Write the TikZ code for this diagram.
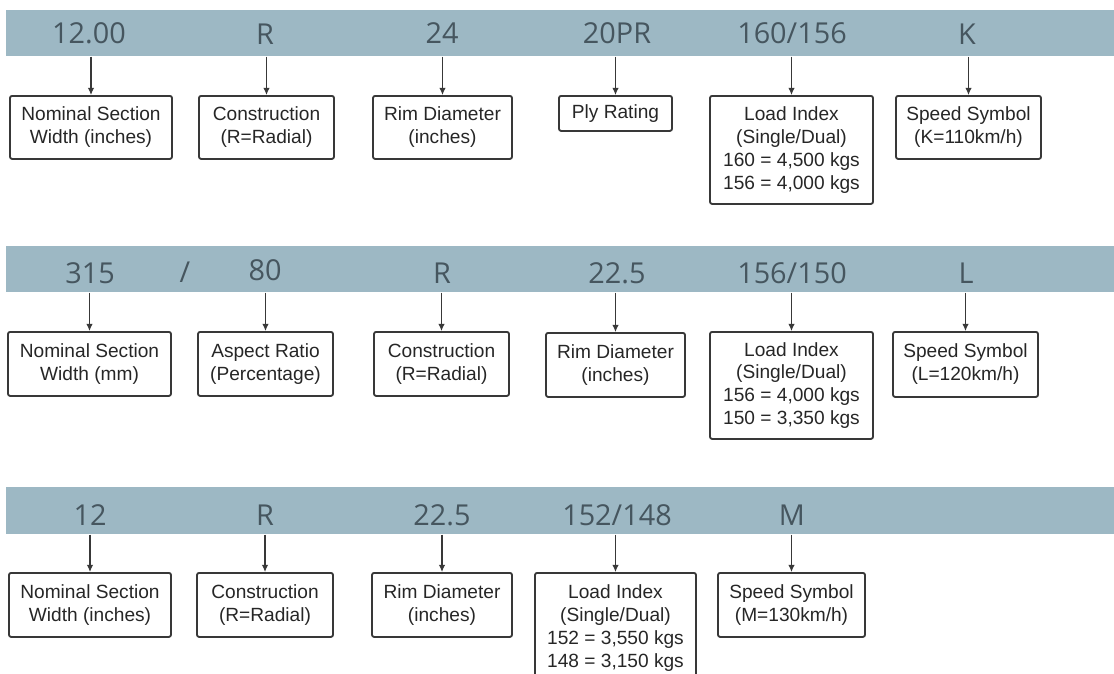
\documentclass[tikz,border=0pt]{standalone}
\usepackage{fontspec}
\setmainfont{Liberation Sans}
\newfontfamily\barfont{Open Sans}
\usetikzlibrary{arrows.meta}
\definecolor{barblue}{HTML}{9DB8C4}
\definecolor{bartext}{HTML}{46565F}
\definecolor{boxline}{HTML}{383838}
\newcommand{\pxu}{0.025cm}
\tikzset{
  bar/.style={fill=barblue, draw=none, inner sep=0pt, anchor=north west, minimum width=1108*\pxu, minimum height=46*\pxu},
  code/.style={anchor=base, inner sep=0pt, text=bartext, font=\barfont\fontsize{20.5}{22}\selectfont},
  lbl/.style={draw=boxline, line width=1.3pt, rounded corners=1.5pt, anchor=north, align=center, inner sep=0pt,
    text=black!85, font=\fontsize{13.6}{16.2}\selectfont},
  arr/.style={-{Latex[length=5pt,width=4.5pt]}, line width=0.75pt, draw=boxline}
}

\begin{document}
\begin{tikzpicture}[x=\pxu,y=-\pxu]
\useasboundingbox (0,0) rectangle (1114,673);
% first line: 12.00 R 24 20PR 160/156 K
\node (bar1) [bar] at (6,10) {};
\node (t11) [code] at (89,43) {12.00};
\node (t12) [code] at (265,44) {R};
\node (t13) [code] at (442,43) {24};
\node (t14) [code] at (617,43) {20PR};
\node (t15) [code] at (792,43) {160/156};
\node (t16) [code] at (967,44) {K};
\node (b11) [lbl, minimum width=162*\pxu, minimum height=63*\pxu] at (91,95) {Nominal Section\\Width (inches)};
\node (b12) [lbl, minimum width=135*\pxu, minimum height=63*\pxu] at (266.5,95) {Construction\\(R=Radial)};
\node (b13) [lbl, minimum width=139*\pxu, minimum height=63*\pxu] at (442.5,95) {Rim Diameter\\(inches)};
\node (b14) [lbl, minimum width=113*\pxu, minimum height=35*\pxu] at (615.5,95) {Ply Rating};
\node (b15) [lbl, minimum width=163*\pxu, minimum height=108*\pxu] at (791.5,95) {Load Index\\(Single/Dual)\\160 = 4,500 kgs\\156 = 4,000 kgs};
\node (b16) [lbl, minimum width=145*\pxu, minimum height=63*\pxu] at (968.5,95) {Speed Symbol\\(K=110km/h)};
\draw[arr] (b11.north |- bar1.south) -- (b11.north);
\draw[arr] (b12.north |- bar1.south) -- (b12.north);
\draw[arr] (b13.north |- bar1.south) -- (b13.north);
\draw[arr] (b14.north |- bar1.south) -- (b14.north);
\draw[arr] (b15.north |- bar1.south) -- (b15.north);
\draw[arr] (b16.north |- bar1.south) -- (b16.north);
% second line: 315/80 R 22.5 156/150 L
\node (bar2) [bar] at (6,246) {};
\node (t21) [code] at (90,283) {315};
\node (t2s) [code] at (185,282) {/};
\node (t22) [code] at (265,280) {80};
\node (t23) [code] at (442,283) {R};
\node (t24) [code] at (617,283) {22.5};
\node (t25) [code] at (792,283) {156/150};
\node (t26) [code] at (966,283) {L};
\node (b21) [lbl, minimum width=163*\pxu, minimum height=64*\pxu] at (89.5,331) {Nominal Section\\Width (mm)};
\node (b22) [lbl, minimum width=135*\pxu, minimum height=64*\pxu] at (265.5,331) {Aspect Ratio\\(Percentage)};
\node (b23) [lbl, minimum width=135*\pxu, minimum height=64*\pxu] at (441.5,331) {Construction\\(R=Radial)};
\node (b24) [lbl, minimum width=139*\pxu, minimum height=64*\pxu] at (615.5,332) {Rim Diameter\\(inches)};
\node (b25) [lbl, minimum width=163*\pxu, minimum height=107*\pxu] at (791.5,331) {Load Index\\(Single/Dual)\\156 = 4,000 kgs\\150 = 3,350 kgs};
\node (b26) [lbl, minimum width=145*\pxu, minimum height=65*\pxu] at (965.5,331) {Speed Symbol\\(L=120km/h)};
\draw[arr] (b21.north |- bar2.south) -- (b21.north);
\draw[arr] (b22.north |- bar2.south) -- (b22.north);
\draw[arr] (b23.north |- bar2.south) -- (b23.north);
\draw[arr] (b24.north |- bar2.south) -- (b24.north);
\draw[arr] (b25.north |- bar2.south) -- (b25.north);
\draw[arr] (b26.north |- bar2.south) -- (b26.north);
% third line: 12 R 22.5 152/148 M
\node (bar3) [bar, minimum height=47*\pxu] at (6,487) {};
\node (t31) [code] at (90,525) {12};
\node (t32) [code] at (265,525) {R};
\node (t33) [code] at (442,525) {22.5};
\node (t34) [code] at (617,525) {152/148};
\node (t35) [code] at (792,525) {M};
\node (b31) [lbl, minimum width=162*\pxu, minimum height=64*\pxu] at (90,572) {Nominal Section\\Width (inches)};
\node (b32) [lbl, minimum width=136*\pxu, minimum height=64*\pxu] at (265,572) {Construction\\(R=Radial)};
\node (b33) [lbl, minimum width=140*\pxu, minimum height=64*\pxu] at (442,572) {Rim Diameter\\(inches)};
\node (b34) [lbl, minimum width=161*\pxu, minimum height=110*\pxu] at (615.5,572) {Load Index\\(Single/Dual)\\152 = 3,550 kgs\\148 = 3,150 kgs};
\node (b35) [lbl, minimum width=147*\pxu, minimum height=64*\pxu] at (791.5,572) {Speed Symbol\\(M=130km/h)};
\draw[arr] (b31.north |- bar3.south) -- (b31.north);
\draw[arr] (b32.north |- bar3.south) -- (b32.north);
\draw[arr] (b33.north |- bar3.south) -- (b33.north);
\draw[arr] (b34.north |- bar3.south) -- (b34.north);
\draw[arr] (b35.north |- bar3.south) -- (b35.north);
\end{tikzpicture}
\end{document}
